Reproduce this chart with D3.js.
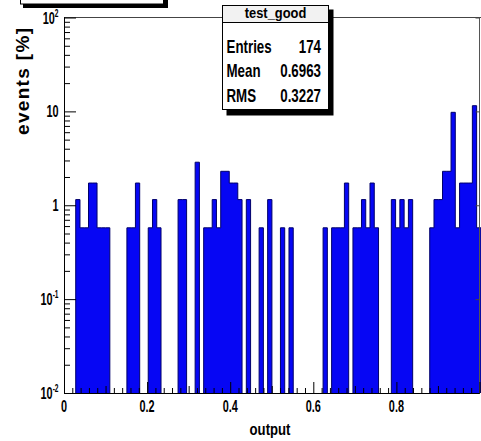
<!DOCTYPE html>
<html><head><meta charset="utf-8">
<script src="https://cdn.jsdelivr.net/npm/d3@7"></script>
<style>body{margin:0;background:#fff;overflow:hidden}</style>
</head><body>
<svg id="c" width="481" height="441"></svg>
<script>
// ---- data ----
const histTitle = "test_good";
const statLabels = ["Entries", "Mean", "RMS"];
const statValues = ["174", "0.6963", "0.3227"];
const xTicks = [0, 0.2, 0.4, 0.6, 0.8];
const xTickLabels = ["0", "0.2", "0.4", "0.6", "0.8"];
const yTicks = [0.01, 0.1, 1, 10, 100];
const yTickBase = ["10", "10", "1", "10", "10"];
const yTickExp = ["-2", "-1", "", "", "2"];
const xTitle = "output";
const yTitle = "events [%]";
const histXmin = -0.0026;   // lower edge of first bin
const binWidth = 0.010265;  // bin width (x units)
// events [%] per bin
const binValues = [
  0, 0, 0, 1.149, 0.575, 0.575, 1.724, 1.724, 0.575, 0.575,
  0.575, 0, 0, 0, 0, 0.575, 0.575, 1.724, 0, 0,
  0.575, 1.149, 0.575, 0, 0, 0, 0, 1.149, 1.149, 0,
  0, 2.874, 0, 0.575, 0.575, 1.149, 0.575, 2.299, 2.299, 1.724,
  1.724, 1.149, 0, 1.149, 0, 0, 0.575, 0, 1.149, 0,
  0, 0.575, 0, 0.575, 0, 0, 0, 0, 0, 0,
  0, 0.575, 0, 0.575, 0.575, 0.575, 1.724, 0, 0.575, 0.575,
  1.149, 0.575, 1.724, 0.575, 0, 0, 0, 1.149, 0.575, 1.149,
  0.575, 1.149, 0, 0, 0, 0, 0.575, 1.149, 1.149, 2.299,
  2.299, 9.770, 0.575, 1.724, 1.724, 1.724, 11.494, 0.575
];

// ---- layout ----
const svg = d3.select("#c");
const L = 64, R = 479.5, T = 17.5, B = 393;
const x = d3.scaleLinear().domain([0, 1]).range([L, R]);
const y = d3.scaleLog().domain([0.01, 100]).range([B, T]);
const FONT = "'Liberation Sans', Arial, Helvetica, sans-serif";

svg.append("defs").append("clipPath").attr("id", "fr")
  .append("rect").attr("x", L).attr("y", T).attr("width", 481 - L).attr("height", B - T);

const bins = binValues.map((v, i) => ({x0: histXmin + i * binWidth, x1: histXmin + (i + 1) * binWidth, v}));

// step path (zero bins drop to the bottom)
const yy = v => v > 0 ? y(v) : B + 1;
const p = d3.path();
p.moveTo(x(bins[0].x0), B + 1);
bins.forEach(d => { p.lineTo(x(d.x0), yy(d.v)); p.lineTo(x(d.x1), yy(d.v)); });
p.lineTo(x(bins[bins.length - 1].x1), B + 1);
const stepD = p.toString();

const g = svg.append("g").attr("clip-path", "url(#fr)");
g.append("path").attr("d", stepD + "Z").attr("fill", "#0606f4").attr("stroke", "none");
g.append("path").attr("d", stepD).attr("fill", "none")
  .attr("stroke", "#00006a").attr("stroke-width", 1);

// ---- frame ----
svg.append("line").attr("x1", L).attr("x2", 481).attr("y1", T).attr("y2", T).attr("stroke", "#444");
svg.append("line").attr("x1", R).attr("x2", R).attr("y1", T).attr("y2", B).attr("stroke", "#555");

// ---- axes ----
const yMinor = [];
for (let e = -2; e < 2; e++) for (let k = 2; k <= 9; k++) yMinor.push(k * Math.pow(10, e));
const ax = svg.append("g").attr("transform", `translate(${L},0)`);
ax.call(d3.axisRight(y).tickValues(yMinor).tickSize(6).tickFormat(""));
ax.append("g").call(d3.axisRight(y).tickValues(yTicks).tickSize(12).tickFormat(""));
ax.selectAll("path.domain").attr("stroke", "#000").attr("d", `M0.5,${T}V${B}`);
ax.selectAll("line").attr("stroke", "#000");

// right side decade ticks
const axr = svg.append("g").attr("transform", `translate(${R},0)`);
axr.call(d3.axisLeft(y).tickValues(yTicks).tickSize(4).tickFormat(""));
axr.selectAll("path.domain").remove();
axr.selectAll("line").attr("stroke", "#444");

const xMinor = d3.range(0, 50).map(i => i * 0.02).filter(v => Math.abs(v * 10 - Math.round(v * 10)) > 1e-6);
const xMid = [0.1, 0.3, 0.5, 0.7, 0.9];
const bx = svg.append("g").attr("transform", `translate(0,${B})`);
bx.call(d3.axisTop(x).tickValues(xMinor).tickSize(5).tickFormat(""));
bx.append("g").call(d3.axisTop(x).tickValues(xMid).tickSize(7).tickFormat(""));
bx.append("g").call(d3.axisTop(x).tickValues(xTicks.concat([1])).tickSize(11).tickFormat(""));
bx.selectAll("path.domain").attr("stroke", "#000").attr("d", `M${L},0.5H${R}`);
bx.selectAll("line").attr("stroke", "#000");

// tick labels
const SX = 0.66;
yTicks.forEach((v, i) => {
  const t = svg.append("text")
    .attr("transform", `translate(58.5,${y(v) + 6}) scale(${SX},1)`)
    .attr("text-anchor", "end").attr("font-family", FONT).attr("font-weight", "bold")
    .attr("font-size", 16.5).attr("fill", "#000");
  t.append("tspan").text(yTickBase[i]);
  if (yTickExp[i]) t.append("tspan").attr("font-size", 10).attr("dy", -7).text(yTickExp[i]);
});
xTicks.forEach((v, i) => {
  svg.append("text")
    .attr("transform", `translate(${x(v)},412) scale(${SX},1)`)
    .attr("text-anchor", "middle").attr("font-family", FONT).attr("font-weight", "bold")
    .attr("font-size", 16.5).attr("fill", "#000").text(xTickLabels[i]);
});

// axis titles
svg.append("text")
  .attr("transform", `translate(270,434.5) scale(0.82,1)`)
  .attr("text-anchor", "middle").attr("font-family", FONT).attr("font-weight", "bold")
  .attr("font-size", 16).text(xTitle);
svg.append("text")
  .attr("transform", `translate(28.5,135) rotate(-90)`)
  .attr("text-anchor", "start").attr("font-family", FONT).attr("font-weight", "bold")
  .attr("font-size", 19).attr("textLength", 107).attr("lengthAdjust", "spacing").text(yTitle);

// ---- title box (cut at top) ----
svg.append("rect").attr("x", 23).attr("y", -10).attr("width", 145).attr("height", 18).attr("fill", "#000");
svg.append("rect").attr("x", 20.5).attr("y", -10).attr("width", 143).attr("height", 14).attr("fill", "#fff").attr("stroke", "#000");

// ---- stats box ----
const sb = {x: 222.5, y: 5.5, w: 106, h: 104};
svg.append("rect").attr("x", sb.x + 4).attr("y", sb.y + 4).attr("width", sb.w + 1).attr("height", sb.h + 2).attr("fill", "#000");
svg.append("rect").attr("x", sb.x).attr("y", sb.y).attr("width", sb.w).attr("height", sb.h).attr("fill", "#fff").attr("stroke", "#000");
svg.append("rect").attr("x", sb.x).attr("y", sb.y).attr("width", sb.w).attr("height", 17).attr("fill", "#f2f2f2").attr("stroke", "#000");
svg.append("text").attr("transform", `translate(${sb.x + sb.w / 2},18) scale(0.86,1)`)
  .attr("text-anchor", "middle").attr("font-family", FONT).attr("font-weight", "bold")
  .attr("font-size", 15).text(histTitle);
const rowY = [53, 77, 101.5];
statLabels.forEach((s, i) => {
  svg.append("text").attr("transform", `translate(226.5,${rowY[i]}) scale(0.74,1)`)
    .attr("font-family", FONT).attr("font-weight", "bold").attr("font-size", 18).text(s);
  svg.append("text").attr("transform", `translate(321,${rowY[i]}) scale(0.74,1)`)
    .attr("text-anchor", "end").attr("font-family", FONT).attr("font-weight", "bold").attr("font-size", 18).text(statValues[i]);
});
</script>
</body></html>
